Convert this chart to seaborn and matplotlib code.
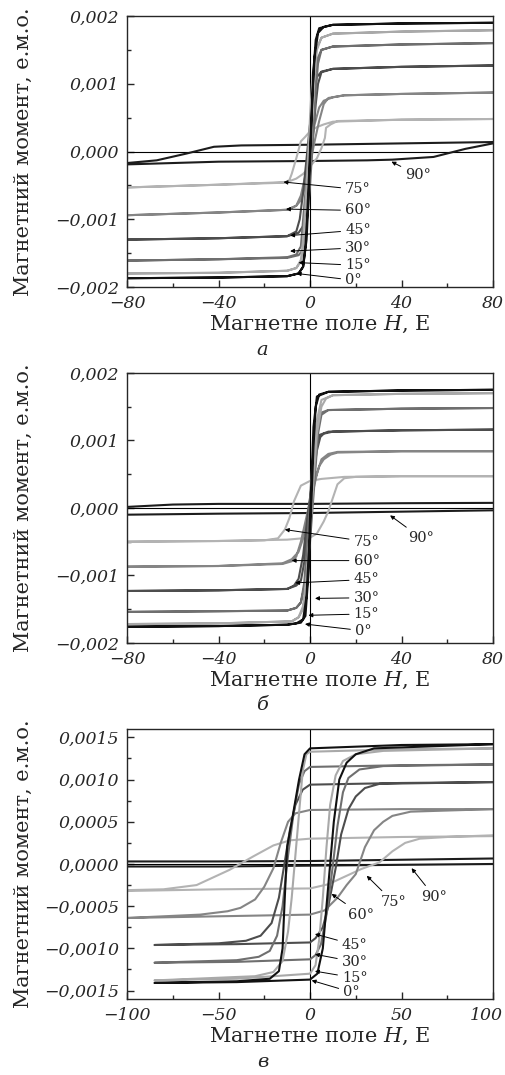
import numpy as np
import pandas as pd
import seaborn as sns
import matplotlib.pyplot as plt
from matplotlib.ticker import MultipleLocator
from matplotlib.transforms import ScaledTranslation

angles = [0, 15, 30, 45, 60, 75, 90]
colors = ["#111111", "#a9a9a9", "#6f6f6f", "#4d4d4d", "#858585", "#b3b3b3", "#1c1c1c"]

# magnetic moment in units of 1e-3 e.m.o.; each loop = descending branch, then ascending branch
# panel а
a_h = {
    0: [80, 40, 10, 4, 2.5, 1.5, 0.5, -0.5, -1.5, -3, -5, -10, -40, -80,
        -80, -40, -10, -5, -3, -2, -1, 0, 1, 2, 3.5, 6, 10, 40, 80],
    15: [80, 40, 10, 5, 3, 2, 1, 0, -1, -2, -3.5, -6, -10, -40, -80,
         -80, -40, -10, -6, -4, -3, -2, -1, 0, 1, 2.5, 5, 10, 40, 80],
    30: [80, 40, 10, 5, 3.5, 2.5, 1.5, 0, -1.5, -3, -5, -10, -40, -80,
         -80, -40, -10, -6, -4, -3, -1.5, 0, 1.5, 3, 5, 10, 40, 80],
    45: [80, 40, 10, 5, 3.5, 2.5, 1.5, 0, -1.5, -3, -5, -10, -40, -80,
         -80, -40, -10, -6, -4.5, -3, -1.5, 0, 1.5, 3, 5, 10, 40, 80],
    60: [80, 40, 15, 8, 6, 4, 2, 0, -2, -4, -6, -10, -40, -80,
         -80, -40, -10, -6, -4, -2, 0, 2, 4, 6, 10, 15, 40, 80],
    75: [80, 40, 12, 9, 7, 6.5, 5, 3, 0, -3, -6, -10, -40, -80,
         -80, -40, -11, -9, -8, -6, -4, -2, 0, 3, 6, 10, 40, 80],
    90: [80, 40, 0, -30, -42, -54, -67, -80,
         -80, -40, 0, 25, 36, 54, 68, 80],
}
a_m = {
    0: [1.90, 1.89, 1.87, 1.82, 1.65, 1.2, 0.3, -0.6, -1.3, -1.7, -1.8, -1.84, -1.86, -1.87,
        -1.87, -1.86, -1.84, -1.8, -1.7, -1.4, -0.8, 0.0, 0.8, 1.4, 1.75, 1.84, 1.87, 1.89, 1.90],
    15: [1.79, 1.77, 1.74, 1.68, 1.5, 1.1, 0.5, -0.2, -0.8, -1.3, -1.6, -1.72, -1.76, -1.79, -1.80,
         -1.80, -1.79, -1.76, -1.72, -1.6, -1.3, -0.8, -0.2, 0.5, 1.1, 1.5, 1.68, 1.74, 1.77, 1.79],
    30: [1.60, 1.58, 1.55, 1.5, 1.3, 0.9, 0.3, -0.5, -1.1, -1.45, -1.53, -1.57, -1.59, -1.61,
         -1.61, -1.59, -1.56, -1.52, -1.4, -1.0, -0.4, 0.4, 1.0, 1.35, 1.5, 1.55, 1.58, 1.60],
    45: [1.27, 1.25, 1.22, 1.17, 1.0, 0.7, 0.3, -0.3, -0.8, -1.1, -1.2, -1.25, -1.28, -1.30,
         -1.30, -1.28, -1.25, -1.18, -1.0, -0.6, -0.1, 0.4, 0.85, 1.1, 1.18, 1.22, 1.25, 1.27],
    60: [0.87, 0.85, 0.83, 0.79, 0.7, 0.45, 0.15, -0.2, -0.5, -0.72, -0.8, -0.86, -0.9, -0.94,
         -0.94, -0.9, -0.86, -0.8, -0.65, -0.35, 0.05, 0.4, 0.65, 0.75, 0.8, 0.83, 0.85, 0.87],
    75: [0.48, 0.47, 0.45, 0.4, 0.35, 0.2, 0.05, -0.1, -0.22, -0.33, -0.4, -0.45, -0.49, -0.53,
         -0.53, -0.49, -0.46, -0.42, -0.33, -0.1, 0.15, 0.22, 0.3, 0.36, 0.4, 0.44, 0.47, 0.48],
    90: [0.14, 0.12, 0.1, 0.09, 0.07, -0.03, -0.13, -0.17,
         -0.19, -0.15, -0.14, -0.13, -0.12, -0.08, 0.04, 0.12],
}

# panel б
b_h = {
    0: [80, 40, 8, 3, 1.5, 0.5, -0.5, -1.5, -3, -6, -10, -40, -80,
        -80, -40, -10, -4, -2, -0.5, 0.5, 1.5, 2.5, 4, 8, 40, 80],
    15: [80, 40, 10, 5, 3, 1.5, 0, -1.5, -3, -5, -8, -40, -80,
         -80, -40, -8, -5, -3, -1.5, 0, 1.5, 3, 5, 7, 10, 40, 80],
    30: [80, 40, 8, 4, 2, 0.5, -1, -2.5, -4, -6, -10, -40, -80,
         -80, -40, -10, -6, -4, -2, 0, 2, 3.5, 5, 8, 40, 80],
    45: [80, 40, 8, 4, 2, 0.5, -1, -2.5, -4, -6, -10, -40, -80,
         -80, -40, -10, -7, -5, -3, -1, 1, 3, 4.5, 6, 10, 40, 80],
    60: [80, 40, 12, 8, 5, 3, 1, -1, -3, -5, -8, -12, -40, -80,
         -80, -40, -12, -8, -6, -4, -2, 0, 2, 4, 6, 9, 12, 40, 80],
    75: [80, 40, 15, 5, 0, -4, -7, -9, -11, -14, -20, -40, -80,
         -80, -40, -10, 0, 3, 6, 8, 10, 12, 15, 20, 40, 80],
    90: [80, 40, 0, -40, -60, -80,
         -80, -40, 0, 40, 80],
}
b_m = {
    0: [1.75, 1.74, 1.72, 1.65, 1.2, 0.3, -0.6, -1.3, -1.65, -1.71, -1.73, -1.75, -1.76,
        -1.76, -1.75, -1.73, -1.7, -1.6, -0.9, 0.0, 0.9, 1.5, 1.68, 1.72, 1.74, 1.75],
    15: [1.70, 1.69, 1.67, 1.6, 1.3, 0.6, -0.3, -1.0, -1.45, -1.62, -1.68, -1.71, -1.72,
         -1.72, -1.71, -1.68, -1.62, -1.5, -1.1, -0.4, 0.4, 1.1, 1.5, 1.62, 1.67, 1.69, 1.70],
    30: [1.48, 1.47, 1.45, 1.4, 1.1, 0.4, -0.4, -1.1, -1.4, -1.48, -1.52, -1.53, -1.54,
         -1.54, -1.53, -1.52, -1.48, -1.4, -1.1, -0.5, 0.4, 1.1, 1.38, 1.45, 1.47, 1.48],
    45: [1.16, 1.15, 1.13, 1.08, 0.85, 0.3, -0.3, -0.8, -1.08, -1.15, -1.2, -1.22, -1.23,
         -1.23, -1.22, -1.2, -1.15, -1.05, -0.7, -0.1, 0.4, 0.85, 1.05, 1.1, 1.13, 1.15, 1.16],
    60: [0.84, 0.84, 0.83, 0.8, 0.72, 0.5, 0.2, -0.15, -0.45, -0.65, -0.76, -0.82, -0.86, -0.87,
         -0.87, -0.86, -0.83, -0.79, -0.72, -0.5, -0.2, 0.1, 0.4, 0.62, 0.72, 0.79, 0.82, 0.84, 0.84],
    75: [0.47, 0.47, 0.46, 0.43, 0.4, 0.33, 0.1, -0.15, -0.32, -0.45, -0.48, -0.49, -0.50,
         -0.50, -0.49, -0.47, -0.44, -0.38, -0.2, -0.05, 0.15, 0.35, 0.44, 0.46, 0.47, 0.47],
    90: [0.075, 0.07, 0.06, 0.06, 0.05, 0.015,
         -0.10, -0.085, -0.075, -0.055, -0.035],
}

# panel в
c_h = {
    0: [100, 50, 0, -3, -6, -10, -12.5, -14, -15, -17, -22, -40, -85,
        -85, -40, 0, 4, 7, 9, 11, 13, 16, 20, 25, 35, 100],
    15: [100, 50, 0, -2, -4, -6, -8, -10, -12, -15, -20, -30, -85,
         -85, -40, 0, 3, 5, 7, 9, 11, 14, 18, 25, 40, 100],
    30: [100, 50, 0, -3, -6, -9, -12, -15, -18, -22, -28, -40, -85,
         -85, -40, 0, 3, 6, 9, 12, 15, 18, 21, 27, 40, 100],
    45: [100, 50, 0, -4, -8, -11, -14, -17, -21, -27, -35, -50, -85,
         -85, -40, 0, 3, 7, 10, 14, 17, 21, 25, 30, 38, 100],
    60: [100, 50, 0, -8, -12, -16, -20, -25, -30, -38, -45, -60, -100,
         -100, -50, 0, 8, 15, 20, 25, 30, 35, 40, 45, 55, 100],
    75: [100, 50, 0, -11, -20, -31, -44, -62, -80, -100,
         -100, -50, 0, 10, 18, 28, 38, 45, 52, 60, 75, 100],
    90: [100, 50, 0, -50, -100,
         -100, -50, 0, 50, 100],
}
c_m = {
    0: [1.42, 1.41, 1.37, 1.3, 1.0, 0.5, 0.2, -0.5, -1.0, -1.27, -1.36, -1.39, -1.41,
        -1.41, -1.4, -1.37, -1.3, -1.0, -0.5, 0.0, 0.5, 1.0, 1.2, 1.3, 1.37, 1.42],
    15: [1.37, 1.36, 1.33, 1.3, 1.1, 0.6, 0.1, -0.4, -0.8, -1.15, -1.28, -1.33, -1.38,
         -1.38, -1.36, -1.3, -1.2, -0.9, -0.4, 0.2, 0.7, 1.05, 1.22, 1.3, 1.34, 1.37],
    30: [1.18, 1.17, 1.15, 1.1, 0.95, 0.6, 0.1, -0.5, -0.85, -1.03, -1.1, -1.14, -1.17,
         -1.17, -1.16, -1.13, -1.08, -0.95, -0.6, -0.1, 0.45, 0.85, 1.02, 1.12, 1.16, 1.18],
    45: [0.97, 0.96, 0.94, 0.88, 0.7, 0.4, 0.0, -0.4, -0.7, -0.85, -0.91, -0.94, -0.96,
         -0.96, -0.95, -0.93, -0.88, -0.75, -0.5, -0.05, 0.35, 0.65, 0.8, 0.9, 0.95, 0.97],
    60: [0.65, 0.65, 0.64, 0.6, 0.5, 0.25, -0.05, -0.27, -0.42, -0.52, -0.56, -0.6, -0.64,
         -0.64, -0.62, -0.6, -0.55, -0.4, -0.25, -0.12, 0.2, 0.4, 0.5, 0.57, 0.62, 0.65],
    75: [0.33, 0.32, 0.3, 0.28, 0.22, 0.09, -0.07, -0.25, -0.3, -0.31,
         -0.32, -0.3, -0.29, -0.24, -0.16, -0.06, 0.02, 0.15, 0.25, 0.3, 0.32, 0.34],
    90: [0.065, 0.05, 0.035, 0.03, 0.03,
         -0.03, -0.03, -0.02, -0.01, 0.0],
}

a_xticks = [-80, -40, 0, 40, 80]
a_yticks = [-0.002, -0.001, 0.0, 0.001, 0.002]
c_xticks = [-100, -50, 0, 50, 100]
c_yticks = [-0.0015, -0.0010, -0.0005, 0.0, 0.0005, 0.0010, 0.0015]

sns.set_style("ticks")
plt.rcParams["font.family"] = ["DejaVu Serif"]
plt.rcParams["mathtext.fontset"] = "dejavuserif"


def fmt(v, dec):
    s = f"{abs(v):.{dec}f}".replace(".", ",")
    return ("\u2212" + s) if v < 0 else s


def draw_panel(ax, hd, md, xticks, yticks, ydec, xminor, yminor, ylim, labels, letter):
    rows = []
    for ang in angles:
        for i, (h, m) in enumerate(zip(hd[ang], md[ang])):
            rows.append((ang, i, h, m * 1e-3))
    df = pd.DataFrame(rows, columns=["angle", "step", "H", "M"])
    ax.axhline(0, color="black", lw=0.8, zorder=1)
    ax.axvline(0, color="black", lw=0.8, zorder=1)
    sns.lineplot(data=df, x="H", y="M", hue="angle", hue_order=angles[::-1],
                 palette=dict(zip(angles, colors)), sort=False, estimator=None,
                 legend=False, lw=1.5, ax=ax)
    ax.set_xlim(xticks[0], xticks[-1])
    ax.set_ylim(*ylim)
    ax.set_xticks(xticks, [fmt(v, 0) for v in xticks], fontstyle="italic", fontsize=12.5)
    ax.set_yticks(yticks, [fmt(v, ydec) for v in yticks], fontstyle="italic", fontsize=12.5)
    ax.xaxis.set_minor_locator(MultipleLocator(xminor))
    ax.yaxis.set_minor_locator(MultipleLocator(yminor))
    ax.tick_params(which="both", direction="in", top=False, right=False)
    ax.tick_params(which="major", length=5, width=1, pad=6)
    ax.tick_params(which="minor", length=3, width=1)
    for sp in ax.spines.values():
        sp.set_linewidth(1.0)
    ax.set_xlabel("Магнетне поле $H$, Е", fontsize=15)
    ax.set_ylabel("Магнетний момент, е.м.о.", fontsize=15)
    ax.xaxis.set_label_coords(0.525, -0.1)
    ax.yaxis.set_label_coords(-0.256, 0.5)
    for txt, th, tm, xh, xm in labels:
        ax.annotate(txt, xy=(th, tm * 1e-3), xytext=(xh, xm * 1e-3),
                    ha="center", va="center", fontsize=10.5,
                    arrowprops=dict(arrowstyle="-|>", color="black", lw=0.7,
                                    mutation_scale=6, shrinkA=1, shrinkB=0))
    ax.text(0.37, -0.25, letter, transform=ax.transAxes, ha="center",
            va="baseline", fontstyle="italic", fontsize=14)


fig = plt.figure(figsize=(5.05, 10.75), dpi=100)
ax_a = fig.add_axes([0.2515, 0.7330, 0.7248, 0.2521])
ax_b = fig.add_axes([0.2515, 0.4019, 0.7248, 0.2512])
ax_c = fig.add_axes([0.2515, 0.0707, 0.7248, 0.2512])

draw_panel(ax_a, a_h, a_m, a_xticks, a_yticks, 3, 20, 0.0005, (-0.002, 0.002),
           [("90°", 35.6, -0.15, 47.3, -0.35),
            ("75°", -11.6, -0.45, 21, -0.56),
            ("60°", -10.5, -0.85, 21, -0.87),
            ("45°", -8.7, -1.24, 21, -1.16),
            ("30°", -8.7, -1.47, 21, -1.42),
            ("15°", -5, -1.64, 21, -1.68),
            ("0°", -5.8, -1.8, 19, -1.9)], "а")
draw_panel(ax_b, b_h, b_m, a_xticks, a_yticks, 3, 20, 0.0005, (-0.002, 0.002),
           [("90°", 35, -0.11, 48.7, -0.45),
            ("75°", -11, -0.32, 24.7, -0.5),
            ("60°", -8, -0.78, 24.7, -0.78),
            ("45°", -6.5, -1.11, 24.7, -1.06),
            ("30°", 2.2, -1.34, 24.7, -1.33),
            ("15°", -0.7, -1.59, 24.7, -1.57),
            ("0°", -2.2, -1.72, 23.3, -1.82)], "б")
draw_panel(ax_c, c_h, c_m, c_xticks, c_yticks, 4, 25, 0.00025, (-0.0016, 0.0016),
           [("90°", 55.5, -0.05, 68, -0.39),
            ("75°", 31, -0.14, 45.5, -0.45),
            ("60°", 11.8, -0.355, 28, -0.6),
            ("45°", 2.7, -0.83, 24.5, -0.96),
            ("30°", 2.7, -1.07, 24.5, -1.16),
            ("15°", 2.7, -1.27, 24.5, -1.35),
            ("0°", 0.9, -1.38, 22.7, -1.52)], "в")

# pull the right-most "100" label in a little so it stays inside the figure
last = ax_c.get_xticklabels()[-1]
last.set_transform(last.get_transform() + ScaledTranslation(-7 / 100, 0, fig.dpi_scale_trans))

fig.savefig("out.png", dpi=100)
